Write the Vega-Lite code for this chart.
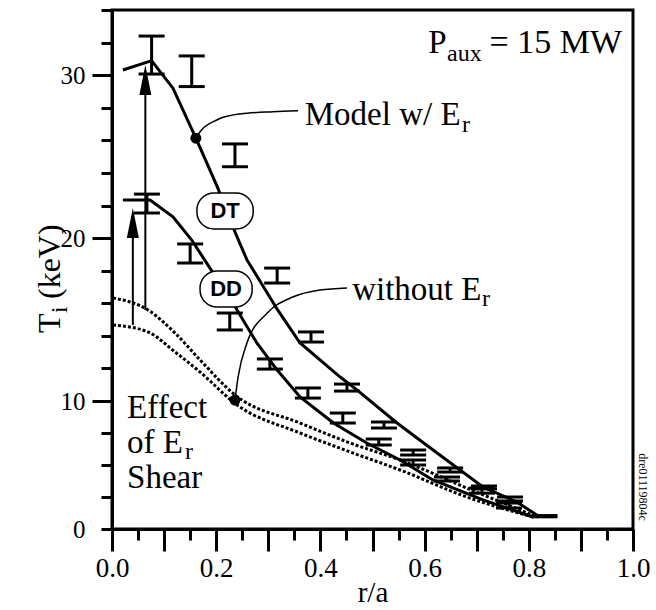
{
  "$schema": "https://vega.github.io/schema/vega-lite/v6.json",
  "width": 521,
  "height": 519,
  "autosize": {"type": "none"},
  "padding": {"left": 112, "top": 10, "right": 23, "bottom": 81},
  "background": "white",
  "config": {
    "view": {"stroke": "black", "strokeWidth": 3},
    "font": "Liberation Serif",
    "text": {"font": "Liberation Serif", "color": "black"},
    "tick": {"opacity": 1},
    "rule": {"opacity": 1}
  },
  "datasets": {
    "noEr": [
      {"s": "upper", "x": 0.002, "y": 16.32}, {"s": "upper", "x": 0.069, "y": 15.59}, {"s": "upper", "x": 0.121, "y": 14.17},
      {"s": "upper", "x": 0.169, "y": 12.52}, {"s": "upper", "x": 0.236, "y": 10.37}, {"s": "upper", "x": 0.361, "y": 8.28},
      {"s": "upper", "x": 0.457, "y": 6.72}, {"s": "upper", "x": 0.553, "y": 5.39}, {"s": "upper", "x": 0.681, "y": 3.2},
      {"s": "upper", "x": 0.816, "y": 0.94},
      {"s": "lower", "x": 0.002, "y": 14.67}, {"s": "lower", "x": 0.069, "y": 14.24}, {"s": "lower", "x": 0.121, "y": 13.01},
      {"s": "lower", "x": 0.169, "y": 11.78}, {"s": "lower", "x": 0.24, "y": 9.69}, {"s": "lower", "x": 0.361, "y": 7.5},
      {"s": "lower", "x": 0.457, "y": 6.02}, {"s": "lower", "x": 0.553, "y": 4.61}, {"s": "lower", "x": 0.681, "y": 2.5},
      {"s": "lower", "x": 0.808, "y": 0.94}
    ],
    "model": [
      {"s": "DT", "x": 0.021, "y": 30.32}, {"s": "DT", "x": 0.076, "y": 30.89}, {"s": "DT", "x": 0.117, "y": 29.2},
      {"s": "DT", "x": 0.161, "y": 26.13}, {"s": "DT", "x": 0.203, "y": 23.08}, {"s": "DT", "x": 0.232, "y": 20.68},
      {"s": "DT", "x": 0.259, "y": 18.66}, {"s": "DT", "x": 0.318, "y": 15.59}, {"s": "DT", "x": 0.361, "y": 13.56},
      {"s": "DT", "x": 0.438, "y": 11.47}, {"s": "DT", "x": 0.47, "y": 10.68}, {"s": "DT", "x": 0.547, "y": 8.28},
      {"s": "DT", "x": 0.624, "y": 5.94}, {"s": "DT", "x": 0.712, "y": 3.28}, {"s": "DT", "x": 0.777, "y": 2.11},
      {"s": "DT", "x": 0.821, "y": 0.94},
      {"s": "DD", "x": 0.021, "y": 22.34}, {"s": "DD", "x": 0.073, "y": 22.34}, {"s": "DD", "x": 0.117, "y": 21.31},
      {"s": "DD", "x": 0.153, "y": 19.88}, {"s": "DD", "x": 0.188, "y": 18.16}, {"s": "DD", "x": 0.232, "y": 16.02},
      {"s": "DD", "x": 0.278, "y": 13.56}, {"s": "DD", "x": 0.317, "y": 11.9}, {"s": "DD", "x": 0.361, "y": 10.25},
      {"s": "DD", "x": 0.425, "y": 8.28}, {"s": "DD", "x": 0.489, "y": 6.72}, {"s": "DD", "x": 0.553, "y": 5.39},
      {"s": "DD", "x": 0.616, "y": 3.83}, {"s": "DD", "x": 0.712, "y": 2.27}, {"s": "DD", "x": 0.808, "y": 0.94}
    ],
    "leaders": [
      {"s": "model", "x": 0.161, "y": 26.13}, {"s": "model", "x": 0.169, "y": 26.53}, {"s": "model", "x": 0.201, "y": 27.25},
      {"s": "model", "x": 0.246, "y": 27.62}, {"s": "model", "x": 0.309, "y": 27.76}, {"s": "model", "x": 0.357, "y": 27.82},
      {"s": "noEr", "x": 0.236, "y": 10.06}, {"s": "noEr", "x": 0.242, "y": 11.47}, {"s": "noEr", "x": 0.259, "y": 13.56},
      {"s": "noEr", "x": 0.298, "y": 15.4}, {"s": "noEr", "x": 0.347, "y": 16.38}, {"s": "noEr", "x": 0.399, "y": 16.81},
      {"s": "noEr", "x": 0.451, "y": 16.94}
    ],
    "arrows": [
      {"x": 0.04, "y": 14.67, "y2": 21.2},
      {"x": 0.064, "y": 15.59, "y2": 29.8}
    ],
    "heads": [
      {"x": 0.04, "y": 20.93},
      {"x": 0.064, "y": 29.7}
    ],
    "bars": [
      {"s": "DT", "x": 0.076, "y": 30.07, "y2": 32.4}, {"s": "DT", "x": 0.153, "y": 29.3, "y2": 31.18},
      {"s": "DT", "x": 0.236, "y": 24.38, "y2": 25.78}, {"s": "DT", "x": 0.317, "y": 17.24, "y2": 18.16},
      {"s": "DT", "x": 0.382, "y": 13.62, "y2": 14.24}, {"s": "DT", "x": 0.451, "y": 10.61, "y2": 11.04},
      {"s": "DT", "x": 0.522, "y": 7.89, "y2": 8.36}, {"s": "DT", "x": 0.578, "y": 5.78, "y2": 6.17},
      {"s": "DT", "x": 0.649, "y": 4.45, "y2": 4.77}, {"s": "DT", "x": 0.714, "y": 3.13, "y2": 3.36},
      {"s": "DT", "x": 0.764, "y": 2.19, "y2": 2.5},
      {"s": "DD", "x": 0.067, "y": 21.54, "y2": 22.7}, {"s": "DD", "x": 0.15, "y": 18.47, "y2": 19.64},
      {"s": "DD", "x": 0.226, "y": 14.36, "y2": 15.4}, {"s": "DD", "x": 0.303, "y": 11.96, "y2": 12.58},
      {"s": "DD", "x": 0.376, "y": 10.18, "y2": 10.8}, {"s": "DD", "x": 0.443, "y": 8.28, "y2": 9.06},
      {"s": "DD", "x": 0.512, "y": 6.56, "y2": 7.03}, {"s": "DD", "x": 0.578, "y": 5.0, "y2": 5.39},
      {"s": "DD", "x": 0.643, "y": 3.75, "y2": 4.06}, {"s": "DD", "x": 0.71, "y": 2.8, "y2": 3.2},
      {"s": "DD", "x": 0.762, "y": 1.64, "y2": 2.03},
      {"s": "end", "x": 0.83, "y": 0.95, "y2": 1.05}
    ],
    "dots": [
      {"x": 0.161, "y": 26.13},
      {"x": 0.236, "y": 10.06}
    ],
    "boxes": [
      {"t": "DT", "x": 0.163, "x2": 0.271, "y": 22.77, "y2": 20.56},
      {"t": "DD", "x": 0.169, "x2": 0.269, "y": 17.98, "y2": 15.77}
    ],
    "boxLabels": [
      {"t": "DT", "x": 0.217, "y": 21.66},
      {"t": "DD", "x": 0.219, "y": 16.88}
    ],
    "bigText": [
      {"t": "Model w/ E", "x": 0.37, "y": 26.94},
      {"t": "without E", "x": 0.461, "y": 16.2},
      {"t": "Effect", "x": 0.029, "y": 8.67},
      {"t": "of E", "x": 0.029, "y": 5.94},
      {"t": "Shear", "x": 0.029, "y": 3.2},
      {"t": "P", "x": 0.607, "y": 31.36}
    ],
    "subText": [
      {"t": "r", "x": 0.672, "y": 26.51},
      {"t": "r", "x": 0.71, "y": 15.83},
      {"t": "r", "x": 0.14, "y": 5.45},
      {"t": "aux", "x": 0.643, "y": 30.87}
    ],
    "rightText": [
      {"t": "= 15 MW", "x": 0.979, "y": 31.36}
    ],
    "vertText": [
      {"t": "dre01119804c", "x": 1.019, "y": 3.28}
    ],
    "yTitle": [
      {"t": "T", "x": -0.0998, "y": 14.17},
      {"t": "(keV)", "x": -0.0998, "y": 16.26}
    ],
    "yTitleSub": [
      {"t": "i", "x": -0.0864, "y": 15.4}
    ]
  },
  "encoding": {
    "x": {
      "field": "x", "type": "quantitative",
      "scale": {"domain": [0, 1], "nice": false, "zero": false},
      "axis": {
        "title": "r/a",
        "values": [0, 0.05, 0.1, 0.15, 0.2, 0.25, 0.3, 0.35, 0.4, 0.45, 0.5, 0.55, 0.6, 0.65, 0.7, 0.75, 0.8, 0.85, 0.9, 0.95, 1.0],
        "grid": false,
        "domainColor": "black", "domainWidth": 3,
        "tickColor": "black", "tickWidth": 3, "tickSize": 22,
        "tickDash": {"condition": {"test": "abs(datum.value*10 - round(datum.value*10)) > 0.01", "value": [11, 40]}, "value": []},
        "labelExpr": "abs(datum.value*5 - round(datum.value*5)) < 0.01 ? format(datum.value, '.1f') : ''",
        "labelFont": "Liberation Serif", "labelFontSize": 27, "labelColor": "black",
        "labelPadding": 4, "labelFlush": false, "labelOverlap": false, "labelBound": false,
        "titleFont": "Liberation Serif", "titleFontSize": 29, "titleFontWeight": "normal", "titleColor": "black",
        "titlePadding": -3
      }
    },
    "y": {
      "field": "y", "type": "quantitative",
      "scale": {"domain": [0, 10, 34], "range": [519, 391, 0], "nice": false, "zero": false},
      "axis": {
        "title": null,
        "values": [0, 2.5, 5, 7.5, 10, 12, 14, 16, 18, 20, 22, 24, 26, 28, 30, 32, 34],
        "grid": false,
        "domainColor": "black", "domainWidth": 3,
        "tickColor": "black", "tickWidth": 3, "tickSize": 20,
        "tickDash": {"condition": {"test": "datum.value % 10 != 0 || datum.value == 0", "value": [11, 40]}, "value": []},
        "labelExpr": "datum.value % 10 == 0 ? format(datum.value, 'd') : ''",
        "labelFont": "Liberation Serif", "labelFontSize": 25, "labelColor": "black",
        "labelPadding": 7, "labelOverlap": false, "labelBound": false, "labelFlush": false
      }
    }
  },
  "layer": [
    {
      "data": {"name": "noEr"},
      "mark": {"type": "line", "color": "black", "strokeWidth": 3, "strokeDash": [3, 2], "interpolate": "monotone"},
      "encoding": {"detail": {"field": "s"}}
    },
    {
      "data": {"name": "model"},
      "mark": {"type": "line", "color": "black", "strokeWidth": 3},
      "encoding": {"detail": {"field": "s"}}
    },
    {
      "data": {"name": "leaders"},
      "mark": {"type": "line", "color": "black", "strokeWidth": 1.5, "interpolate": "monotone"},
      "encoding": {"detail": {"field": "s"}}
    },
    {
      "data": {"name": "arrows"},
      "mark": {"type": "rule", "color": "black", "strokeWidth": 2},
      "encoding": {"y2": {"field": "y2"}}
    },
    {
      "data": {"name": "heads"},
      "mark": {"type": "point", "shape": "M-0.4,1L0,-1L0.4,1Z", "filled": true, "color": "black", "size": 900, "opacity": 1}
    },
    {
      "data": {"name": "bars"},
      "mark": {"type": "errorbar", "color": "black", "opacity": 1, "ticks": {"size": 26, "thickness": 3, "color": "black", "opacity": 1}, "rule": {"strokeWidth": 3, "color": "black", "opacity": 1}},
      "encoding": {"y2": {"field": "y2"}}
    },
    {
      "data": {"name": "dots"},
      "mark": {"type": "circle", "color": "black", "size": 120, "opacity": 1}
    },
    {
      "data": {"name": "boxes"},
      "mark": {"type": "rect", "fill": "white", "stroke": "black", "strokeWidth": 1.5, "cornerRadius": 17},
      "encoding": {"x2": {"field": "x2"}, "y2": {"field": "y2"}}
    },
    {
      "data": {"name": "boxLabels"},
      "mark": {"type": "text", "font": "Liberation Sans", "fontWeight": "bold", "fontSize": 22, "align": "center", "baseline": "middle", "color": "black"},
      "encoding": {"text": {"field": "t"}}
    },
    {
      "data": {"name": "bigText"},
      "mark": {"type": "text", "font": "Liberation Serif", "fontSize": 33, "align": "left", "baseline": "alphabetic", "color": "black"},
      "encoding": {"text": {"field": "t"}}
    },
    {
      "data": {"name": "subText"},
      "mark": {"type": "text", "font": "Liberation Serif", "fontSize": 24, "align": "left", "baseline": "alphabetic", "color": "black"},
      "encoding": {"text": {"field": "t"}}
    },
    {
      "data": {"name": "rightText"},
      "mark": {"type": "text", "font": "Liberation Serif", "fontSize": 34, "align": "right", "baseline": "alphabetic", "color": "black"},
      "encoding": {"text": {"field": "t"}}
    },
    {
      "data": {"name": "vertText"},
      "mark": {"type": "text", "font": "Liberation Serif", "fontSize": 12, "align": "center", "baseline": "middle", "angle": 90, "color": "black"},
      "encoding": {"text": {"field": "t"}}
    },
    {
      "data": {"name": "yTitle"},
      "mark": {"type": "text", "font": "Liberation Serif", "fontSize": 32, "align": "left", "baseline": "alphabetic", "angle": -90, "color": "black"},
      "encoding": {"text": {"field": "t"}}
    },
    {
      "data": {"name": "yTitleSub"},
      "mark": {"type": "text", "font": "Liberation Serif", "fontSize": 23, "align": "left", "baseline": "alphabetic", "angle": -90, "color": "black"},
      "encoding": {"text": {"field": "t"}}
    }
  ]
}
